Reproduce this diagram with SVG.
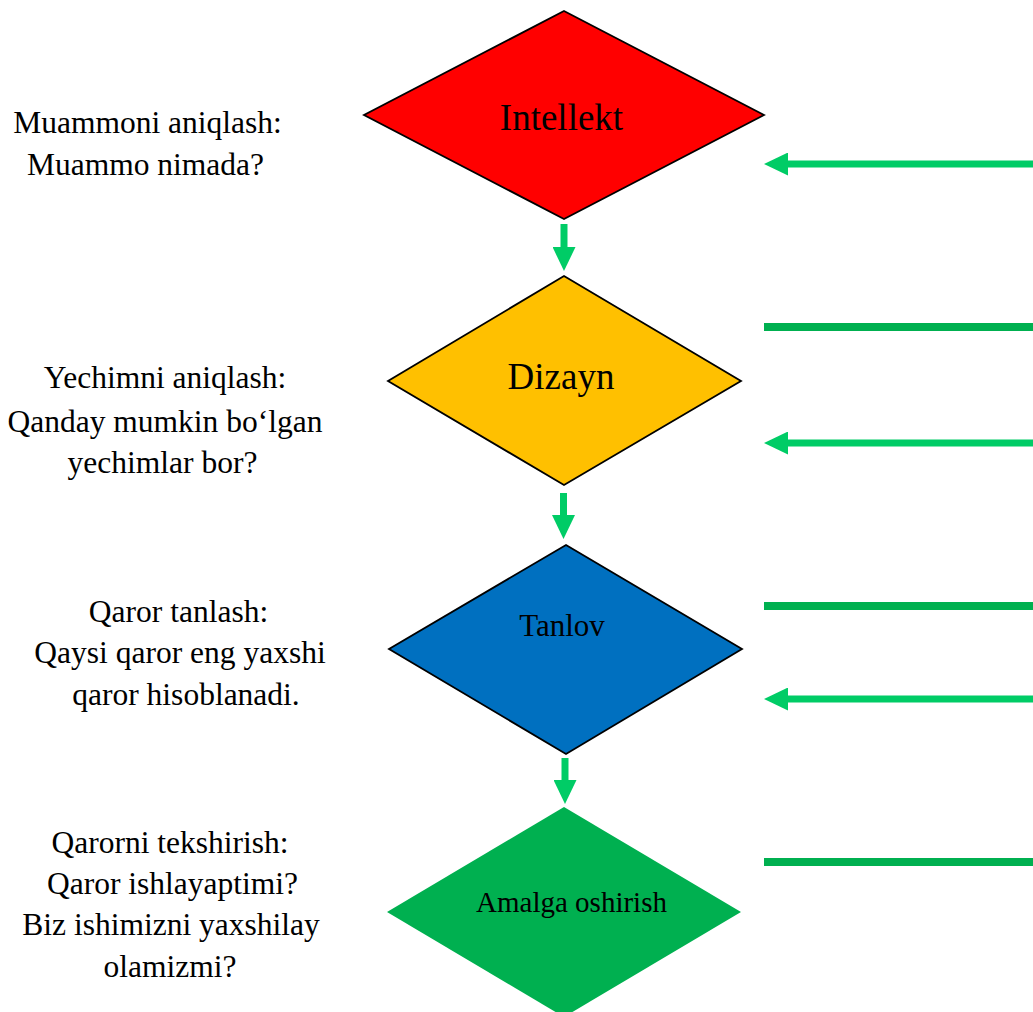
<svg xmlns="http://www.w3.org/2000/svg" width="1033" height="1012" viewBox="0 0 1033 1012">
<style>
text{font-family:"Liberation Serif",serif;fill:#000;text-anchor:middle}
.side{font-size:31.5px}
.dia{stroke:#000;stroke-width:1.8;stroke-linejoin:miter}
.fb{stroke:#00CC66;stroke-width:7;fill:none}
.ln{stroke:#00B050;stroke-width:8;fill:none}
</style>
<defs>
<marker id="ah" markerUnits="userSpaceOnUse" viewBox="0 0 24 23" refX="0" refY="11.5" markerWidth="24" markerHeight="23" orient="auto">
<path d="M0,0 L24,11.5 L0,23 z" fill="#00CC66"/>
</marker>
</defs>
<rect width="1033" height="1012" fill="#fff"/>

<g id="node-intellekt">
<polygon class="dia" points="564,11 764,115 564,219 364,115" fill="#FF0000"/>
<text x="561.5" y="130" font-size="37">Intellekt</text>
</g>
<g id="node-dizayn">
<polygon class="dia" points="564,276 741,381 564,485 388,381" fill="#FFC000"/>
<text x="561" y="389" font-size="37">Dizayn</text>
</g>
<g id="node-tanlov">
<polygon class="dia" points="566,545 742,649 566,754 389,649" fill="#0070C0"/>
<text x="562" y="636" font-size="31">Tanlov</text>
</g>
<g id="node-amalga">
<polygon points="564,807 741,912 564,1017 387,912" fill="#00B050"/>
<text x="571.5" y="912" font-size="29">Amalga oshirish</text>
</g>

<g id="label-1">
<text class="side" x="147.5" y="133">Muammoni aniqlash:</text>
<text class="side" x="145.5" y="175">Muammo nimada?</text>
</g>
<g id="label-2">
<text class="side" x="165" y="388">Yechimni aniqlash:</text>
<text class="side" x="165" y="432">Qanday mumkin bo‘lgan</text>
<text class="side" x="162.5" y="473">yechimlar bor?</text>
</g>
<g id="label-3">
<text class="side" x="178.5" y="622">Qaror tanlash:</text>
<text class="side" x="180" y="663">Qaysi qaror eng yaxshi</text>
<text class="side" x="186" y="705">qaror hisoblanadi.</text>
</g>
<g id="label-4">
<text class="side" x="170" y="853">Qarorni tekshirish:</text>
<text class="side" x="172.5" y="894">Qaror ishlayaptimi?</text>
<text class="side" x="171" y="935">Biz ishimizni yaxshilay</text>
<text class="side" x="170" y="977">olamizmi?</text>
</g>

<g id="connectors">
<path class="fb" d="M564,224 V247" marker-end="url(#ah)"/>
<path class="fb" d="M563.5,493 V515" marker-end="url(#ah)"/>
<path class="fb" d="M565,758 V780" marker-end="url(#ah)"/>
<path class="fb" d="M1033,164 H788" marker-end="url(#ah)"/>
<path class="fb" d="M1033,443 H788" marker-end="url(#ah)"/>
<path class="fb" d="M1033,699 H788" marker-end="url(#ah)"/>
<path class="ln" d="M764,327 H1033"/>
<path class="ln" d="M764,606 H1033"/>
<path class="ln" d="M764,862 H1033"/>
</g>
</svg>
